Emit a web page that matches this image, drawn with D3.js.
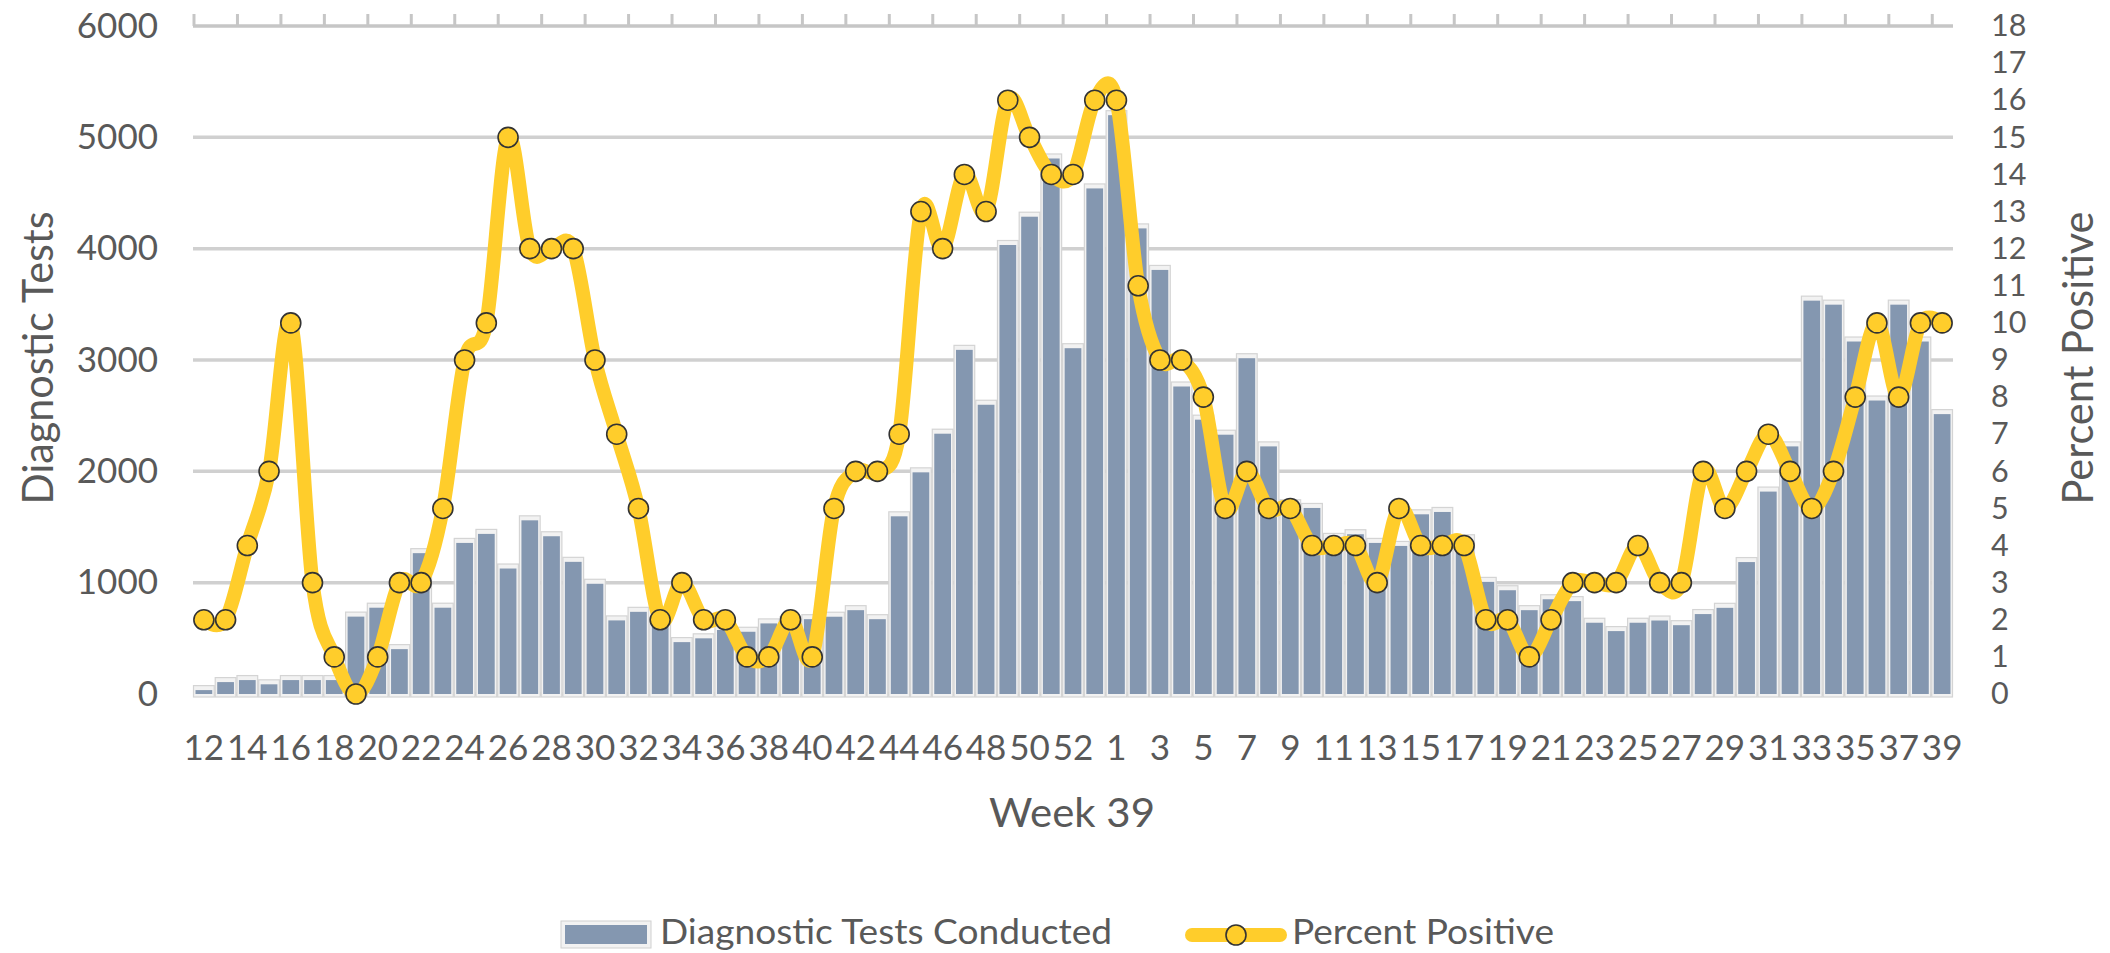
<!DOCTYPE html>
<html lang="en">
<head>
    <meta charset="UTF-8">
    <title>Diagnostic Tests and Percent Positive</title>
    <script src="https://d3js.org/d3.v7.min.js"></script>
    <style>
        body { margin: 0; background: #ffffff; }
        text { font-family: Lato, 'Open Sans', sans-serif; fill: #595959; }
    </style>
</head>
<body>
<div id="chart"></div>
<script>
    // week labels: 2020 weeks 12-53 then 2021 weeks 1-39
    var weeks = [12, 13, 14, 15, 16, 17, 18, 19, 20, 21, 22, 23, 24, 25, 26, 27, 28, 29, 30, 31,
        32, 33, 34, 35, 36, 37, 38, 39, 40, 41, 42, 43, 44, 45, 46, 47, 48, 49, 50, 51, 52, 53,
        1, 2, 3, 4, 5, 6, 7, 8, 9, 10, 11, 12, 13, 14, 15, 16, 17, 18, 19, 20,
        21, 22, 23, 24, 25, 26, 27, 28, 29, 30, 31, 32, 33, 34, 35, 36, 37, 38, 39];

    var testsConducted = [35, 107, 125, 87, 125, 125, 125, 695, 775, 403, 1265, 775, 1357, 1438, 1127, 1560, 1417, 1187, 990, 661,
        738, 650, 466, 500, 575, 559, 634, 655, 672, 694, 753, 672, 1596, 1991, 2338, 3091, 2598, 4033, 4287, 4810, 3106, 4541,
        5199, 4182, 3809, 2762, 2464, 2329, 3016, 2224, 1704, 1671, 1402, 1435, 1357, 1330, 1614, 1635, 1390, 1007, 932, 753,
        851, 834, 640, 565, 640, 660, 618, 718, 774, 1185, 1818, 2224, 3533, 3497, 3166, 2636, 3497, 3166, 2514];

    var percentPositive = [2, 2, 4, 6, 10, 3, 1, 0, 1, 3, 3, 5, 9, 10, 15, 12, 12, 12, 9, 7,
        5, 2, 3, 2, 2, 1, 1, 2, 1, 5, 6, 6, 7, 13, 12, 14, 13, 16, 15, 14, 14, 16,
        16, 11, 9, 9, 8, 5, 6, 5, 5, 4, 4, 4, 3, 5, 4, 4, 4, 2, 2, 1,
        2, 3, 3, 3, 4, 3, 3, 6, 5, 6, 7, 6, 5, 6, 8, 10, 8, 10, 10];

    var leftTicks = [0, 1000, 2000, 3000, 4000, 5000, 6000];
    var rightTicks = d3.range(0, 19);

    var seriesNames = ["Diagnostic Tests Conducted", "Percent Positive"];

    var barColor = "#8497b0";
    var lineColor = "#ffcd2b";

    var totalWidth = 2110,
        totalHeight = 953;
    var margin = { top: 26, right: 157, bottom: 259, left: 193 },
        width = totalWidth - margin.left - margin.right,
        height = totalHeight - margin.top - margin.bottom;

    var svg = d3.select("#chart")
        .append("svg")
        .attr("width", totalWidth)
        .attr("height", totalHeight);

    var g = svg.append("g")
        .attr("transform", "translate(" + margin.left + "," + margin.top + ")");

    var idx = d3.range(weeks.length);

    var x = d3.scaleBand()
        .domain(idx)
        .range([0, width])
        .padding(0);

    var yLeft = d3.scaleLinear()
        .domain([0, 6000])
        .range([height, 0]);

    var yRight = d3.scaleLinear()
        .domain([0, 18])
        .range([height, 0]);

    // squeeze or stretch a text to a given length
    function fitText(sel, len) {
        sel.attr("textLength", len).attr("lengthAdjust", "spacingAndGlyphs");
    }

    // gridlines
    g.append("g")
        .selectAll("line")
        .data(leftTicks.slice(0, -1))
        .enter()
        .append("line")
        .attr("x1", 0)
        .attr("x2", width)
        .attr("y1", function (d) { return yLeft(d); })
        .attr("y2", function (d) { return yLeft(d); })
        .style("stroke", "#d0d0d0")
        .style("stroke-width", 3.5);

    // top axis line with category tick marks
    var topTicks = idx.filter(function (i) { return i % 2 == 0; });
    g.append("line")
        .attr("x1", 0)
        .attr("x2", width)
        .attr("y1", yLeft(6000))
        .attr("y2", yLeft(6000))
        .style("stroke", "#c6c6c6")
        .style("stroke-width", 3.5);
    g.append("g")
        .selectAll("line")
        .data(topTicks)
        .enter()
        .append("line")
        .attr("x1", function (d) { return x(d) + 1; })
        .attr("x2", function (d) { return x(d) + 1; })
        .attr("y1", yLeft(6000))
        .attr("y2", yLeft(6000) - 12)
        .style("stroke", "#c6c6c6")
        .style("stroke-width", 3);

    // bars: light frame behind a blue-grey fill
    var bw = x.bandwidth();
    var bars = g.append("g");
    bars.selectAll("rect.frame")
        .data(testsConducted)
        .enter()
        .append("rect")
        .attr("class", "frame")
        .attr("x", function (d, i) { return x(i) + 0.5; })
        .attr("y", function (d) { return yLeft(d) - 4.5; })
        .attr("width", bw - 1)
        .attr("height", function (d) { return height - yLeft(d) + 7.5; })
        .style("fill", "#f2f2f2")
        .style("stroke", "#d4d4d4")
        .style("stroke-width", 1.2);
    bars.selectAll("rect.bar")
        .data(testsConducted)
        .enter()
        .append("rect")
        .attr("class", "bar")
        .attr("x", function (d, i) { return x(i) + 2.5; })
        .attr("y", function (d) { return yLeft(d); })
        .attr("width", bw - 5)
        .attr("height", function (d) { return height - yLeft(d); })
        .style("fill", barColor);

    // smoothed line for percent positive
    var line = d3.line()
        .x(function (d, i) { return x(i) + bw / 2; })
        .y(function (d) { return yRight(d); })
        .curve(d3.curveCatmullRom.alpha(0));

    g.append("path")
        .datum(percentPositive)
        .attr("d", line)
        .style("fill", "none")
        .style("stroke", lineColor)
        .style("stroke-width", 14)
        .style("stroke-linejoin", "round")
        .style("stroke-linecap", "round");

    g.append("g")
        .selectAll("circle")
        .data(percentPositive)
        .enter()
        .append("circle")
        .attr("cx", function (d, i) { return x(i) + bw / 2; })
        .attr("cy", function (d) { return yRight(d); })
        .attr("r", 10)
        .style("fill", lineColor)
        .style("stroke", "#333333")
        .style("stroke-width", 1.6);

    // axes
    var xAxis = g.append("g")
        .attr("transform", "translate(0," + height + ")")
        .call(d3.axisBottom(x)
            .tickValues(topTicks)
            .tickFormat(function (i) { return weeks[i]; })
            .tickSize(0)
            .tickPadding(41));
    xAxis.select(".domain").remove();
    xAxis.selectAll("text").style("font-size", "35px").style("fill", "#595959");

    var leftAxis = g.append("g")
        .call(d3.axisLeft(yLeft)
            .tickValues(leftTicks)
            .tickFormat(d3.format("d"))
            .tickSize(0)
            .tickPadding(35));
    leftAxis.select(".domain").remove();
    leftAxis.selectAll("text").style("font-size", "35px").style("fill", "#595959");

    // right labels sit one unit apart, so a touch smaller to keep them apart
    var rightAxis = g.append("g")
        .attr("transform", "translate(" + width + ",0)")
        .call(d3.axisRight(yRight)
            .tickValues(rightTicks)
            .tickSize(0)
            .tickPadding(38));
    rightAxis.select(".domain").remove();
    rightAxis.selectAll("text").style("font-size", "30.5px").style("fill", "#595959");

    // axis titles
    svg.append("text")
        .attr("transform", "translate(37,358) rotate(-90)")
        .attr("text-anchor", "middle")
        .attr("dominant-baseline", "central")
        .style("font-size", "42px")
        .text("Diagnostic Tests")
        .call(fitText, 293);

    svg.append("text")
        .attr("transform", "translate(2077,358) rotate(-90)")
        .attr("text-anchor", "middle")
        .attr("dominant-baseline", "central")
        .style("font-size", "42px")
        .text("Percent Positive")
        .call(fitText, 293);

    svg.append("text")
        .attr("x", 1072)
        .attr("y", 827)
        .attr("text-anchor", "middle")
        .style("font-size", "40px")
        .text("Week 39")
        .call(fitText, 166);

    // legend
    var legend = svg.append("g");
    legend.append("rect")
        .attr("x", 561).attr("y", 921)
        .attr("width", 90).attr("height", 27)
        .style("fill", "#f2f2f2").style("stroke", "#d0d0d0");
    legend.append("rect")
        .attr("x", 565).attr("y", 925)
        .attr("width", 82).attr("height", 19)
        .style("fill", barColor);
    legend.append("text")
        .attr("x", 660).attr("y", 944)
        .style("font-size", "34px")
        .text(seriesNames[0])
        .call(fitText, 452);

    legend.append("line")
        .attr("x1", 1192).attr("x2", 1280)
        .attr("y1", 935).attr("y2", 935)
        .style("stroke", lineColor)
        .style("stroke-width", 14)
        .style("stroke-linecap", "round");
    legend.append("circle")
        .attr("cx", 1236).attr("cy", 935).attr("r", 10)
        .style("fill", lineColor)
        .style("stroke", "#333333")
        .style("stroke-width", 1.6);
    legend.append("text")
        .attr("x", 1292).attr("y", 944)
        .style("font-size", "34px")
        .text(seriesNames[1])
        .call(fitText, 262);
</script>
</body>
</html>
